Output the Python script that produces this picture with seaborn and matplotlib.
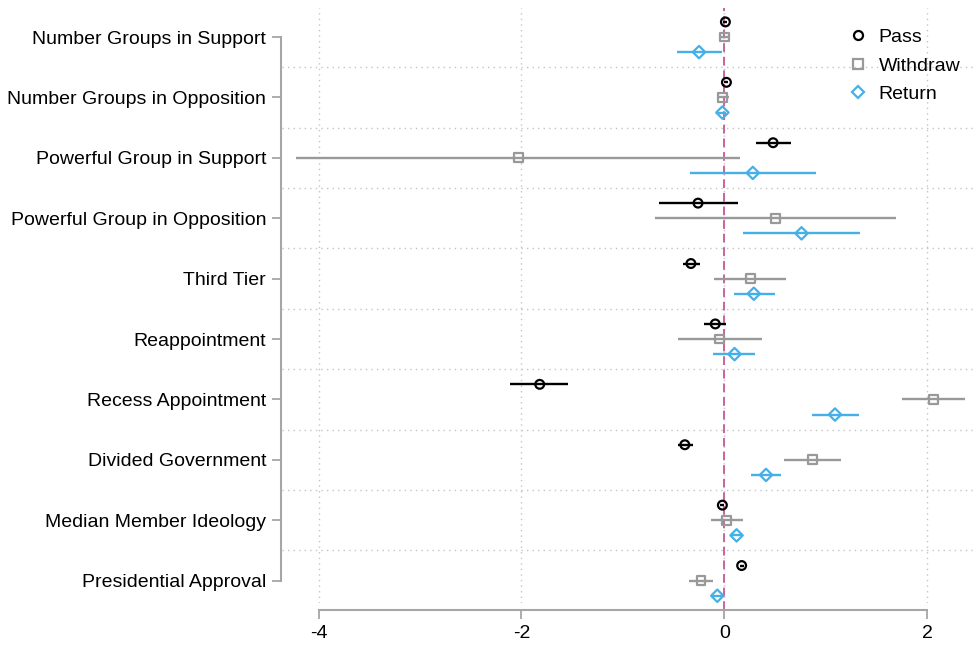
"""Coefficient plot: Pass / Withdraw / Return estimates with confidence intervals."""

import matplotlib.pyplot as plt
from matplotlib.lines import Line2D
import numpy as np
import seaborn as sns

# Data
categories = [
    "Number Groups in Support",
    "Number Groups in Opposition",
    "Powerful Group in Support",
    "Powerful Group in Opposition",
    "Third Tier",
    "Reappointment",
    "Recess Appointment",
    "Divided Government",
    "Median Member Ideology",
    "Presidential Approval",
]

pass_est = [0.01, 0.02, 0.48, -0.26, -0.33, -0.09, -1.82, -0.39, -0.02, 0.17]
pass_lo = [-0.01, 0.00, 0.31, -0.64, -0.41, -0.20, -2.11, -0.46, -0.04, 0.15]
pass_hi = [0.03, 0.04, 0.66, 0.13, -0.24, 0.02, -1.54, -0.31, 0.00, 0.19]

withdraw_est = [0.00, -0.02, -2.03, 0.50, 0.26, -0.05, 2.06, 0.87, 0.02, -0.23]
withdraw_lo = [-0.05, -0.07, -4.22, -0.68, -0.10, -0.46, 1.75, 0.59, -0.13, -0.35]
withdraw_hi = [0.05, 0.05, 0.15, 1.69, 0.61, 0.37, 2.37, 1.15, 0.18, -0.11]

return_est = [-0.25, -0.02, 0.28, 0.76, 0.29, 0.10, 1.09, 0.41, 0.12, -0.07]
return_lo = [-0.47, -0.06, -0.34, 0.18, 0.09, -0.11, 0.86, 0.26, 0.06, -0.13]
return_hi = [-0.02, 0.02, 0.90, 1.34, 0.50, 0.30, 1.33, 0.56, 0.18, -0.02]

x_ticks = [-4, -2, 0, 2]

sns.set_theme(style="white")
plt.rcParams['font.family'] = ['Liberation Sans', 'DejaVu Sans']

AXIS_GRAY = '#a6a6a6'
GRID_GRAY = '#c4c4c4'
FONT_SIZE = 14

fig = plt.figure(figsize=(9.73, 6.47), dpi=100)
ax = fig.add_axes([0.2898, 0.068, 0.7102, 0.9196])

series = [
    ("Pass", "o", "black", pass_est, pass_lo, pass_hi, -0.25, 40),
    ("Withdraw", "s", "#999999", withdraw_est, withdraw_lo, withdraw_hi, 0.0, 40),
    ("Return", "D", "#45b0e8", return_est, return_lo, return_hi, 0.25, 40),
]

base = np.arange(len(categories))
handles = []
for label, marker, color, est, lo, hi, off, size in series:
    y = base + off
    ax.hlines(y, lo, hi, color=color, lw=1.7, zorder=3)
    sns.scatterplot(x=est, y=y, ax=ax, marker=marker, s=size,
                    color=color, facecolor='none', edgecolor=color,
                    linewidth=1.6, zorder=4, legend=False)
    handles.append(Line2D([], [], marker=marker, linestyle='none',
                          markerfacecolor='none', markeredgecolor=color,
                          markeredgewidth=1.6, markersize=6.5 if marker != 'D' else 6,
                          label=label))

# Reference line at zero
ax.axvline(0, color='#c9639e', ls=(0, (4.5, 2.5)), lw=1.4, zorder=2,
           ymin=-0.012, clip_on=False)

# Dotted grid: vertical at x ticks, horizontal between categories
for xt in x_ticks:
    ax.axvline(xt, color=GRID_GRAY, ls=(0, (1, 3)), lw=1, zorder=1)
for i in range(len(categories) - 1):
    ax.axhline(i + 0.5, color=GRID_GRAY, ls=(0, (1, 3)), lw=1, zorder=1)

ax.set_xlim(-4.36, 2.45)
ax.set_ylim(9.37, -0.48)
ax.set_xticks(x_ticks)
ax.set_xticklabels([str(v) for v in x_ticks])
ax.set_yticks(base)
ax.set_yticklabels(categories)

for side in ['top', 'right']:
    ax.spines[side].set_visible(False)
ax.spines['left'].set_position(('outward', 1))
ax.spines['bottom'].set_position(('outward', 5))
ax.spines['left'].set_bounds(0, len(categories) - 1)
ax.spines['bottom'].set_bounds(x_ticks[0], x_ticks[-1])
for side in ['left', 'bottom']:
    ax.spines[side].set_color(AXIS_GRAY)
    ax.spines[side].set_linewidth(1.5)

ax.tick_params(axis='both', which='major', bottom=True, left=True,
               direction='out', length=6.5, width=1.3, color=AXIS_GRAY,
               labelsize=FONT_SIZE, labelcolor='black', pad=4)

ax.legend(handles=handles, loc='upper left', bbox_to_anchor=(0.872, 0.956),
          bbox_transform=fig.transFigure, frameon=False, fontsize=FONT_SIZE,
          handlelength=1.0, handletextpad=0.55, labelspacing=0.56,
          borderpad=0, borderaxespad=0, labelcolor='black')

fig.savefig('out.png', dpi=100)
plt.close(fig)
